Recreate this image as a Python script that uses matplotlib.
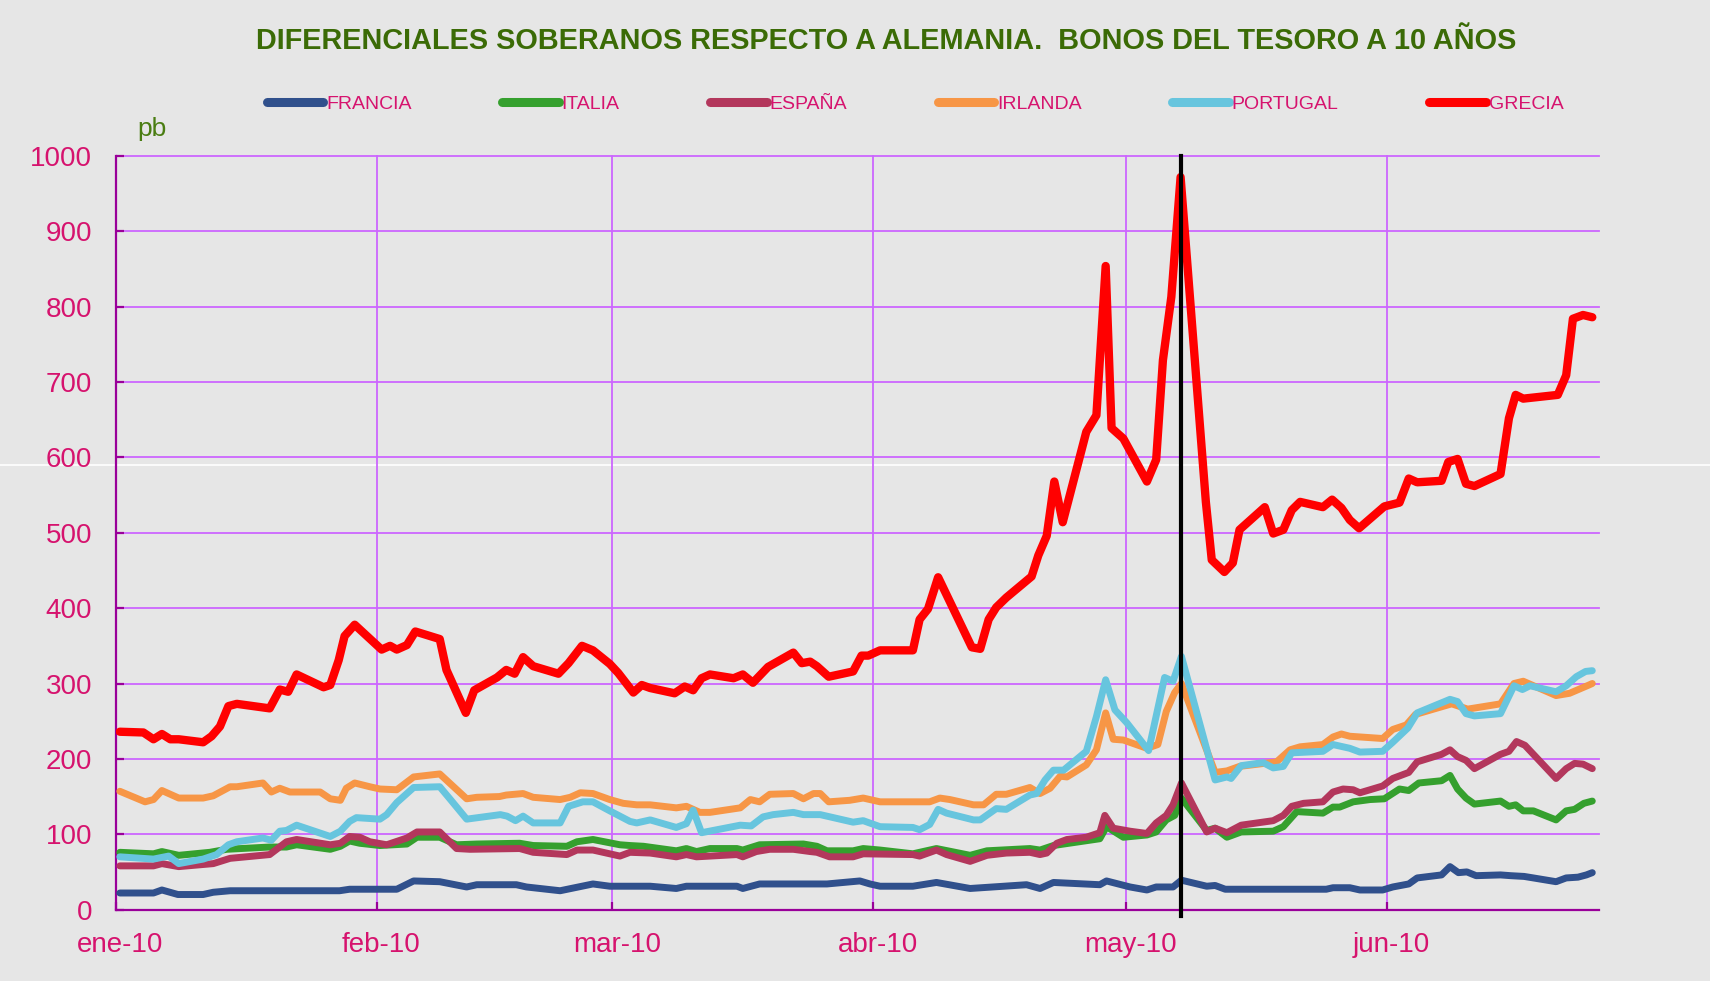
import matplotlib
matplotlib.use("Agg")
import matplotlib.pyplot as plt
from matplotlib.lines import Line2D
from matplotlib.transforms import ScaledTranslation
import numpy as np
import pandas as pd

# x values are days counted from 1 Jan 2010
francia_dias = [0.5, 4.5, 5.5, 7.4, 10.4, 11.6, 13.6, 26.6, 27.8, 33.4, 35.4, 38.5, 41.7, 42.9,
                47.6, 48.8, 52.8, 56.7, 58.7, 63.5, 66.6, 67.8, 73.8, 74.5, 76.5, 84.5, 88.4,
                89.6, 90.8, 94.7, 97.5, 101.5, 108.2, 109.8, 111.4, 116.9, 117.7, 120.5, 122.5,
                123.6, 125.6, 126.6, 129.6, 130.6, 131.8, 143.8, 144.6, 146.6, 147.8, 150.5,
                151.7, 153.6, 154.6, 157.5, 158.5, 159.5, 160.5, 161.6, 164.5, 165.7, 167.3,
                168.4, 171.1, 172.3, 173.7, 174.7, 175.4]
francia = [22, 22, 26, 20, 20, 23, 25, 25, 27, 27, 38, 37, 30, 33,
           33, 30, 25, 34, 31, 31, 28, 31, 31, 28, 34, 34, 38,
           34, 31, 31, 36, 28, 33, 28, 36, 33, 38, 30, 26,
           30, 30, 39, 31, 32, 27, 27, 29, 29, 26, 26,
           30, 34, 42, 46, 57, 49, 50, 45, 46, 45, 44,
           42, 37, 42, 43, 46, 49]

italia_dias = [0.5, 4.5, 5.5, 7.5, 11.2, 13.2, 18.3, 20.3, 21.5, 25.5, 26.7, 27.8, 29.0, 31.4,
               34.6, 35.8, 38.5, 40.5, 42.9, 48.0, 49.6, 53.6, 54.8, 56.7, 59.9, 61.1, 62.7,
               66.6, 67.8, 69.0, 70.6, 73.8, 74.5, 76.5, 81.7, 83.3, 84.5, 87.6, 88.8, 90.8,
               94.7, 97.5, 101.5, 103.5, 108.6, 109.8, 111.4, 116.9, 117.7, 119.7, 122.5,
               123.6, 124.8, 125.8, 126.6, 129.6, 130.6, 132.0, 133.7, 137.5, 138.7, 140.3,
               143.4, 144.6, 145.4, 147.0, 149.0, 150.7, 152.5, 153.6, 154.8, 157.5, 158.5,
               159.4, 160.4, 161.4, 164.5, 165.5, 166.3, 167.2, 168.4, 171.1, 172.3, 173.3,
               174.4, 175.4]
italia = [76, 74, 77, 72, 76, 80, 83, 83, 86, 80, 84, 91, 88, 85,
          87, 96, 96, 86, 87, 88, 85, 84, 90, 93, 86, 85, 84,
          78, 81, 77, 81, 81, 79, 86, 87, 84, 78, 78, 81, 79,
          74, 81, 72, 78, 81, 79, 85, 94, 110, 96, 99,
          103, 119, 125, 148, 105, 108, 96, 103, 104, 110, 130,
          128, 136, 136, 143, 146, 147, 160, 158, 168, 171, 178,
          160, 148, 140, 144, 137, 139, 131, 131, 119, 131, 133,
          141, 144]

espana_dias = [0.5, 4.5, 5.5, 7.5, 11.6, 13.6, 18.3, 20.3, 21.5, 25.5, 26.7, 27.8, 29.0, 30.2,
               32.2, 34.6, 35.8, 38.5, 40.5, 42.1, 48.0, 49.6, 53.6, 54.8, 56.7, 59.9, 61.1,
               63.5, 66.6, 67.8, 69.0, 70.6, 73.8, 74.5, 76.1, 77.7, 80.5, 82.5, 83.3, 84.8,
               87.6, 88.8, 94.7, 95.5, 97.5, 98.7, 101.5, 103.5, 105.8, 108.6, 109.8, 110.6,
               111.8, 113.0, 115.3, 116.9, 117.5, 118.5, 120.5, 122.5, 123.6, 124.8, 125.6,
               126.6, 129.6, 130.6, 132.0, 133.7, 137.5, 138.7, 139.7, 141.1, 143.4, 144.6,
               145.8, 147.0, 147.8, 149.0, 150.5, 151.7, 153.6, 154.6, 157.5, 158.5, 159.4,
               160.4, 161.4, 164.5, 165.5, 166.4, 167.4, 171.1, 172.3, 173.3, 174.3, 175.4]
espana = [58, 58, 61, 57, 61, 68, 73, 90, 93, 86, 88, 97, 96, 90,
          86, 95, 103, 103, 81, 80, 81, 76, 73, 79, 79, 71, 76,
          75, 70, 73, 70, 71, 73, 70, 77, 80, 80, 77, 76, 70,
          70, 74, 73, 71, 79, 73, 64, 72, 75, 76, 73, 75,
          88, 93, 96, 102, 125, 108, 104, 101, 115, 125, 139,
          168, 103, 108, 102, 112, 118, 125, 137, 141, 143, 156,
          160, 159, 155, 159, 164, 174, 182, 196, 206, 212, 203,
          198, 187, 206, 210, 223, 218, 174, 187, 194, 193, 187]

irlanda_dias = [0.5, 3.5, 4.5, 5.5, 7.5, 10.4, 11.6, 13.6, 14.4, 17.5, 18.5, 19.5, 20.7, 24.3,
                25.5, 26.7, 27.4, 28.4, 30.2, 31.4, 33.4, 35.4, 38.5, 41.7, 42.9, 45.6, 46.4,
                48.4, 49.6, 52.8, 54.0, 55.2, 56.7, 58.7, 60.3, 61.9, 63.5, 66.6, 67.8, 69.4,
                70.6, 74.2, 75.4, 76.5, 77.7, 80.5, 81.7, 82.9, 83.7, 84.7, 87.2, 88.8, 90.8,
                96.7, 97.9, 99.1, 101.9, 103.1, 104.6, 105.8, 108.6, 109.8, 111.0, 112.2,
                113.0, 115.3, 116.5, 117.6, 118.5, 119.7, 122.5, 123.8, 124.8, 125.8, 126.6,
                130.6, 132.0, 133.5, 137.9, 139.5, 140.7, 143.4, 144.6, 145.6, 146.6, 150.5,
                151.7, 153.3, 154.4, 158.7, 160.6, 164.5, 166.1, 167.2, 171.1, 172.7, 175.0,
                175.4]
irlanda = [157, 143, 146, 158, 148, 148, 151, 163, 163, 168, 156, 161, 156, 156,
           147, 145, 161, 168, 163, 160, 159, 176, 180, 147, 149, 150, 152,
           154, 149, 146, 149, 155, 154, 146, 141, 139, 139, 135, 137, 129,
           129, 135, 146, 143, 153, 154, 147, 154, 154, 143, 145, 148, 143,
           143, 148, 146, 139, 139, 153, 153, 162, 154, 161, 177,
           176, 192, 212, 261, 226, 225, 214, 219, 263, 288, 300,
           182, 184, 190, 196, 212, 216, 219, 229, 233, 230, 227,
           239, 245, 259, 273, 266, 273, 300, 303, 284, 287, 298,
           300]

portugal_dias = [0.5, 4.5, 6.3, 7.5, 10.4, 12.0, 13.4, 14.4, 17.5, 18.5, 19.5, 20.3, 21.5, 25.5,
                 26.7, 27.8, 28.6, 31.4, 32.2, 33.4, 35.4, 38.5, 39.7, 41.7, 45.7, 46.5, 47.5,
                 48.4, 49.6, 52.8, 53.8, 55.5, 56.7, 58.7, 61.1, 61.9, 63.5, 66.6, 67.8, 68.6,
                 69.6, 74.2, 75.5, 76.9, 78.1, 80.5, 81.7, 83.7, 87.6, 88.8, 90.8, 94.7, 95.5,
                 96.7, 97.7, 98.7, 101.9, 102.7, 104.6, 105.8, 108.6, 109.4, 110.4, 111.4,
                 112.6, 115.3, 116.5, 117.6, 118.7, 120.1, 122.7, 124.6, 125.6, 126.6, 130.6,
                 132.0, 132.5, 133.7, 136.3, 137.5, 138.7, 139.7, 143.4, 144.6, 146.6, 147.8,
                 150.5, 151.7, 153.5, 154.6, 158.5, 159.4, 160.4, 161.4, 164.5, 166.1, 167.1,
                 168.0, 171.1, 172.3, 173.5, 174.6, 175.4]
portugal = [70, 67, 71, 61, 67, 73, 86, 90, 95, 92, 104, 105, 112, 97,
            104, 117, 122, 120, 126, 142, 162, 163, 147, 120, 126, 124, 118,
            124, 115, 115, 137, 143, 143, 131, 117, 115, 119, 109, 114, 132,
            102, 112, 111, 123, 126, 129, 126, 126, 116, 118, 110, 109, 106,
            113, 133, 128, 119, 119, 134, 133, 152, 154, 172, 185,
            185, 210, 256, 305, 265, 248, 211, 308, 303, 336, 172,
            176, 174, 191, 195, 188, 190, 208, 210, 219, 214, 209,
            210, 222, 241, 261, 279, 276, 260, 257, 260, 297, 292,
            297, 289, 297, 309, 316, 317]

grecia_dias = [0.5, 3.3, 4.5, 5.5, 6.5, 7.5, 10.4, 11.4, 12.4, 13.4, 14.4, 18.3, 19.5, 20.5,
               21.5, 24.7, 25.5, 26.5, 27.2, 28.4, 31.6, 32.6, 33.4, 34.6, 35.6, 38.5, 39.3,
               41.6, 42.6, 45.3, 46.4, 47.4, 48.4, 49.6, 52.6, 53.8, 55.4, 56.7, 58.7, 59.7,
               61.5, 62.5, 63.5, 66.4, 67.6, 68.6, 69.6, 70.6, 73.4, 74.5, 75.7, 77.5, 80.5,
               81.5, 82.5, 83.3, 84.7, 87.6, 88.6, 89.4, 90.8, 94.7, 95.5, 96.5, 97.7, 101.7,
               102.7, 103.7, 104.6, 105.8, 108.8, 109.6, 110.6, 111.5, 112.5, 115.3, 116.5,
               117.6, 118.3, 119.7, 122.5, 123.6, 124.4, 125.4, 126.5, 129.5, 130.2, 131.7,
               132.7, 133.5, 136.5, 137.5, 138.7, 139.7, 140.7, 143.4, 144.5, 145.6, 146.6,
               147.7, 150.7, 152.5, 153.6, 154.6, 157.5, 158.3, 159.4, 160.4, 161.4, 164.5,
               165.5, 166.3, 167.2, 171.3, 172.3, 173.1, 174.3, 175.4]
grecia = [236, 235, 226, 233, 226, 226, 222, 230, 243, 270, 273, 267, 292, 289,
          312, 295, 298, 331, 363, 378, 345, 350, 345, 351, 369, 359, 318,
          261, 291, 308, 318, 313, 335, 323, 313, 327, 350, 344, 326, 314,
          288, 298, 294, 287, 296, 291, 307, 312, 307, 312, 301, 322, 341,
          327, 329, 323, 309, 316, 337, 337, 344, 344, 385, 399, 441, 348,
          346, 385, 401, 414, 442, 470, 496, 568, 514, 634, 656,
          854, 639, 625, 568, 597, 729, 813, 972, 541, 464, 448,
          460, 504, 534, 499, 504, 530, 541, 534, 544, 533, 517,
          506, 535, 540, 572, 567, 569, 594, 598, 565, 562, 578,
          652, 683, 678, 683, 709, 784, 789, 786]

linea_dia = 126.55  # vertical marker, 7 may 2010

series = [
    ("FRANCIA", francia_dias, francia, "#30508c", 5.0),
    ("ITALIA", italia_dias, italia, "#35a02e", 5.0),
    ("ESPAÑA", espana_dias, espana, "#b3375c", 5.0),
    ("IRLANDA", irlanda_dias, irlanda, "#f79646", 5.0),
    ("PORTUGAL", portugal_dias, portugal, "#67c5de", 5.0),
    ("GRECIA", grecia_dias, grecia, "#ff0000", 6.0),
]

meses = ["ene-10", "feb-10", "mar-10", "abr-10", "may-10", "jun-10"]
meses_inicio = ["2010-01-01", "2010-02-01", "2010-03-01", "2010-04-01", "2010-05-01", "2010-06-01"]
y_ticks = list(range(0, 1001, 100))

BG = "#e6e6e6"
GRID = "#cc66ff"
SPINE = "#990099"
LABEL = "#d6136e"
TITLE = "#3b6b06"

base = pd.Timestamp("2010-01-01")


def to_dates(days):
    return (base + pd.to_timedelta(np.asarray(days, dtype=float), unit="D")).to_numpy()


fig = plt.figure(figsize=(17.1, 9.81), dpi=100)
fig.patch.set_facecolor(BG)
ax = fig.add_axes([0.0676, 0.0728, 0.8675, 0.7682])
ax.set_facecolor("none")

# stray white line across the picture
fig.add_artist(Line2D([0, 1], [1 - 465 / 981] * 2, transform=fig.transFigure,
                      color="white", linewidth=1.2, zorder=-1))

for name, dias, vals, color, lw in series:
    ax.plot(to_dates(dias), vals, color=color, linewidth=lw, label=name,
            solid_capstyle="round", solid_joinstyle="round", zorder=3)

ax.axvline(to_dates([linea_dia])[0], ymin=-0.008, ymax=1, color="black",
           linewidth=3.0, clip_on=False, zorder=4)

ax.set_ylim(0, 1000)
ax.set_xlim(to_dates([0])[0], to_dates([176.2])[0])
ax.set_yticks(y_ticks)
ax.set_yticklabels([str(v) for v in y_ticks])
ax.set_xticks(pd.to_datetime(meses_inicio).to_numpy())
ax.set_xticklabels(meses)

ax.grid(True, color=GRID, linewidth=1.3, zorder=1)
for gl in ax.get_ygridlines() + ax.get_xgridlines():
    gl.set_clip_on(False)
ax.set_axisbelow(True)

for side in ("top", "right"):
    ax.spines[side].set_visible(False)
for side in ("left", "bottom"):
    ax.spines[side].set_color(SPINE)
    ax.spines[side].set_linewidth(1.6)

ax.tick_params(axis="both", direction="in", length=6, width=1.6, color=SPINE,
               labelcolor=LABEL, labelsize=20)
ax.tick_params(axis="y", pad=17)
ax.tick_params(axis="x", pad=16)
shift = ScaledTranslation(4.4 / 100, 0, fig.dpi_scale_trans)
for lbl in ax.get_xticklabels():
    lbl.set_transform(lbl.get_transform() + shift)
for lbl in ax.get_xticklabels() + ax.get_yticklabels():
    lbl.set_fontfamily("Liberation Sans")

fig.text(886 / 1710, 1 - 41 / 981,
         "DIFERENCIALES SOBERANOS RESPECTO A ALEMANIA.  BONOS DEL TESORO A 10 AÑOS",
         ha="center", va="center", fontsize=20.8, fontweight="bold", color=TITLE,
         family="Liberation Sans")
fig.text(137 / 1710, 1 - 129 / 981, "pb", ha="left", va="center", fontsize=19,
         color="#4a7d12", family="Liberation Sans")

leg = fig.legend(loc="center left", bbox_to_anchor=(267 / 1710, 1 - 104.5 / 981),
                 ncol=6, frameon=False, labelcolor=LABEL,
                 handlelength=2.9, handletextpad=0.15, columnspacing=4.66,
                 borderpad=0, borderaxespad=0, prop={"family": "Liberation Sans", "size": 14})
for line in leg.get_lines():
    line.set_linewidth(6.5)
    line.set_solid_capstyle("round")

fig.savefig("out.png", dpi=100, facecolor=fig.get_facecolor())
